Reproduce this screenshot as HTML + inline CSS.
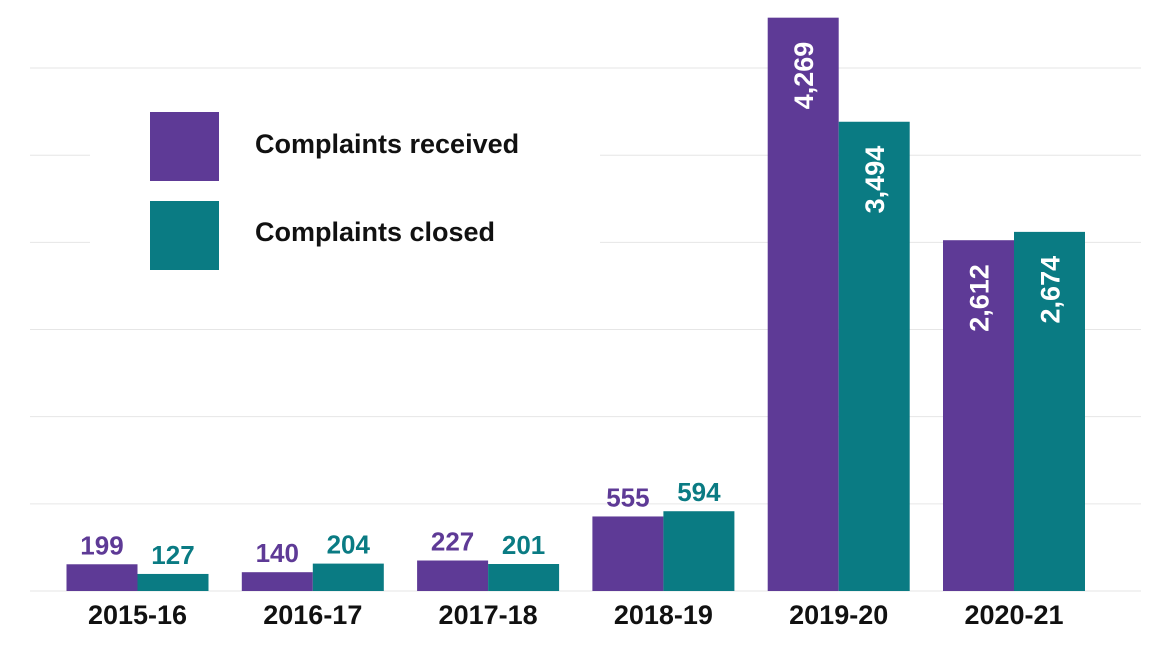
<!DOCTYPE html>
<html><head><meta charset="utf-8"><style>
html,body{margin:0;padding:0;background:#fff;}
svg{display:block;font-family:"Liberation Sans Narrow","Liberation Sans",sans-serif;font-weight:bold;}
</style></head><body>
<svg id="chart" width="1171" height="663" viewBox="0 0 1171 663" xmlns="http://www.w3.org/2000/svg">
<g id="grid"></g>
<g id="bars"></g>
<g id="legend">
<rect x="90" y="92" width="510" height="190" fill="#fff"/>
<rect x="150" y="112" width="69" height="69" fill="#5e3a96"/>
<text x="255" y="153" font-size="27" fill="#111">Complaints received</text>
<rect x="150" y="201" width="69" height="69" fill="#0a7b83"/>
<text x="255" y="241" font-size="27" fill="#111">Complaints closed</text>
</g>
<g id="xaxis"></g>
</svg>
<script>
const categories = ["2015-16","2016-17","2017-18","2018-19","2019-20","2020-21"];
const received = [199,140,227,555,4269,2612];
const closed = [127,204,201,594,3494,2674];
const tickValues = [0,649,1298,1947,2596,3245,3894];

const NS="http://www.w3.org/2000/svg";
const baseY=591, pxPer=0.1343;
const y=v=>baseY-v*pxPer;
const x0=137.5, step=175.3, bw=71;
const xc=i=>x0+i*step;
const fmt=v=>v.toLocaleString("en-US");
function mk(tag,attrs,parent){const e=document.createElementNS(NS,tag);for(const k in attrs)e.setAttribute(k,attrs[k]);parent.appendChild(e);return e;}
const grid=document.getElementById("grid"),bars=document.getElementById("bars"),xa=document.getElementById("xaxis");
tickValues.forEach(t=>{
  const l=mk("line",{x1:30,x2:1141,y1:y(t),y2:y(t),stroke:"#e6e6e6","stroke-width":1},grid);
  
  
});
function bar(i,v,isRec,color,series){
  const left=isRec?xc(i)-bw:xc(i);
  const r=mk("rect",{x:left,y:y(v),width:bw,height:v*pxPer,fill:color},bars);
  
  
  const cx=left+bw/2;
  let t;
  if(v>1500){
    t=mk("text",{x:0,y:0,"font-size":27,fill:"#fff","text-anchor":"end",transform:`translate(${cx+10},${y(v)+24}) rotate(-90)`},bars);
  }else{
    t=mk("text",{x:cx,y:y(v)-10,"font-size":26,fill:color,"text-anchor":"middle"},bars);
  }
  t.textContent=fmt(v);
  
  
}
categories.forEach((c,i)=>{
  bar(i,received[i],true,"#5e3a96","received");
  bar(i,closed[i],false,"#0a7b83","closed");
  const t=mk("text",{x:xc(i),y:624,"font-size":27,fill:"#111","text-anchor":"middle"},xa);
  t.textContent=c;
  
  
});
</script>
</body></html>
